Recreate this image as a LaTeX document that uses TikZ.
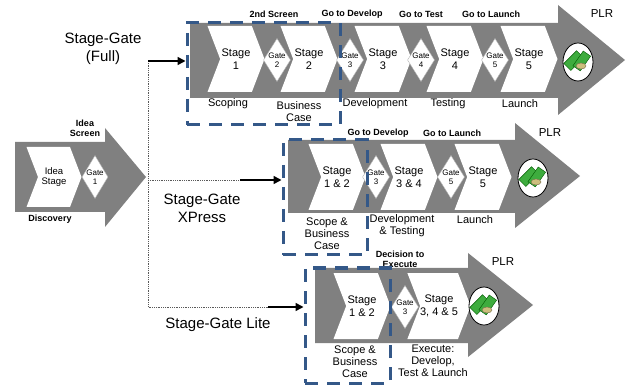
\documentclass[tikz,border=0pt]{standalone}
\usepackage{fontspec}
\setmainfont{Liberation Sans}
\usetikzlibrary{shapes.geometric,shapes.symbols,arrows.meta}
\definecolor{arrowgray}{RGB}{128,128,128}
\definecolor{boxblue}{RGB}{52,88,136}
\definecolor{cashgreen}{RGB}{62,172,62}
\definecolor{coin}{RGB}{205,190,125}
\tikzset{cash/.pic={
  \draw[fill=white, line width=0.8pt] (0,0) ellipse (15 and 19);
  \draw[fill=cashgreen, draw=green!35!black, rotate=45] (-11,-9) rectangle (7,1);
  \draw[fill=cashgreen, draw=green!35!black, rotate=55] (-6,-2) rectangle (12,7);
  \draw[fill=coin, draw=coin!60!black] (3,4) ellipse (5 and 3);
}}
\begin{document}
\begin{tikzpicture}[x=1pt,y=-1pt,
 stage/.style ={signal, signal to=east, signal from=west, signal pointer angle=138, fill=white, minimum width=57, minimum height=66, inner sep=0pt, align=center, font=\fontsize{11}{13}\selectfont},
 gate/.style ={diamond, fill=white, draw=gray!60, minimum width=27, minimum height=40, inner sep=0pt, aspect=0.6, align=center, font=\fontsize{8}{8.5}\selectfont},
 milestone/.style ={align=center, font=\fontsize{9}{10}\selectfont\bfseries},
 phase/.style ={align=center, font=\fontsize{11}{12}\selectfont},
 route/.style ={align=center, font=\fontsize{15}{18}\selectfont},
 plr/.style ={font=\fontsize{11.5}{13}\selectfont},
 scopebox/.style ={draw=boxblue, line width=3pt, dash pattern=on 13pt off 9pt, inner sep=0pt},
 link/.style ={draw, line width=1.6pt, -{Triangle[length=8pt,width=8pt]}},
 feed/.style ={draw=gray!70!black, densely dotted, line width=0.8pt}]

\useasboundingbox (0,0) rectangle (626,387);

% big arrows
\fill[arrowgray] (15,142) -- (105,142) -- (105,128) -- (146,177) -- (105,227) -- (105,212) -- (15,212) -- cycle;
\fill[arrowgray] (190,23) -- (558,23) -- (558,5) -- (625,60) -- (558,115) -- (558,98) -- (190,98) -- cycle;
\fill[arrowgray] (288,140) -- (515,140) -- (515,123) -- (580,176) -- (515,228) -- (515,213) -- (288,213) -- cycle;
\fill[arrowgray] (315,268) -- (468,268) -- (468,253) -- (533,305) -- (468,357) -- (468,343) -- (315,343) -- cycle;

% discovery
\draw (54,177) node[stage, minimum width=55, minimum height=60, font=\fontsize{9.5}{10}\selectfont] (Sidea) {Idea\\Stage};
\draw (95,177) node[gate, minimum width=26, minimum height=39] (G1) {Gate\\1};
\draw (85,128) node[milestone] (Mscreen) {Idea\\Screen};
\draw (50,219) node[milestone] (Pdisc) {Discovery};

% full
\draw (236,59) node[stage] (S1) {Stage\\1};
\draw (277,60) node[gate] (G2) {Gate\\2};
\draw (309,59) node[stage] (S2) {Stage\\2};
\draw (350,60) node[gate] (G3) {Gate\\3};
\draw (383,59) node[stage] (S3) {Stage\\3};
\draw (421,60) node[gate] (G4) {Gate\\4};
\draw (455,59) node[stage] (S4) {Stage\\4};
\draw (495,60) node[gate] (G5) {Gate\\5};
\draw (529,59) node[stage] (S5) {Stage\\5};
\path (578,62) pic {cash};

\draw (274,14) node[milestone] (M2) {2nd Screen};
\draw (352,14) node[milestone] (M3) {Go to Develop};
\draw (421,14) node[milestone] (M4) {Go to Test};
\draw (491,14) node[milestone] (M5) {Go to Launch};
\draw (602,14) node[plr] (PLR1) {PLR};
\draw (228,104) node[phase] (P1) {Scoping};
\draw (299,112) node[phase] (P2) {Business\\Case};
\draw (375,104) node[phase] (P3) {Development};
\draw (448,104) node[phase] (P4) {Testing};
\draw (520,104) node[phase] (P5) {Launch};

% xpress
\draw (337,177) node[stage] (X12) {Stage\\1 \& 2};
\draw (376,177) node[gate] (XG3) {Gate\\3};
\draw (409,177) node[stage] (X34) {Stage\\3 \& 4};
\draw (451,177) node[gate] (XG5) {Gate\\5};
\draw (483,177) node[stage] (X5) {Stage\\5};
\path (533,178) pic {cash};

\draw (378,133) node[milestone] (XM3) {Go to Develop};
\draw (452,133) node[milestone] (XM5) {Go to Launch};
\draw (550,133) node[plr] (PLR2) {PLR};
\draw (327,234) node[phase] (XP12) {Scope \&\\Business\\Case};
\draw (402,226) node[phase] (XP34) {Development\\\& Testing};
\draw (475,220) node[phase] (XP5) {Launch};

% lite
\draw (362,306) node[stage] (L12) {Stage\\1 \& 2};
\draw (405,307) node[gate] (LG3) {Gate\\3};
\draw (439,306) node[stage] (L345) {Stage\\3, 4 \& 5};
\path (484,306) pic {cash};

\draw (400,259) node[milestone] (LM3) {Decision to\\Execute};
\draw (503,262) node[plr] (PLR3) {PLR};
\draw (355,362) node[phase] (LP12) {Scope \&\\Business\\Case};
\draw (433,361) node[phase] (LP345) {Execute:\\Develop,\\Test \& Launch};

% scope boxes
\draw (263.5,74) node[scopebox, minimum width=153, minimum height=102] (box1) {};
\draw (325,197.5) node[scopebox, minimum width=84, minimum height=115] (box2) {};
\draw (347.5,325.5) node[scopebox, minimum width=85, minimum height=115] (box3) {};

% routes
\draw (103,49) node[route] (Rfull) {Stage-Gate\\(Full)};
\draw (202,208) node[route] (Rx) {Stage-Gate\\XPress};
\draw (218,325) node[route] (Rlite) {Stage-Gate Lite};

\coordinate (fork) at (148,61);
\coordinate (xfork) at (148,180);
\coordinate (lfork) at (148,307);
\coordinate (xgo) at (240,180);
\coordinate (lgo) at (268,307);

\draw [feed] (fork) -- (lfork) -- (lgo);
\draw [feed] (xfork) -- (xgo);
\draw [link] (fork) -- (fork -| box1.west);
\draw [link] (xgo) -- (xgo -| box2.west);
\draw [link] (lgo) -- (lgo -| box3.west);

\end{tikzpicture}
\end{document}
